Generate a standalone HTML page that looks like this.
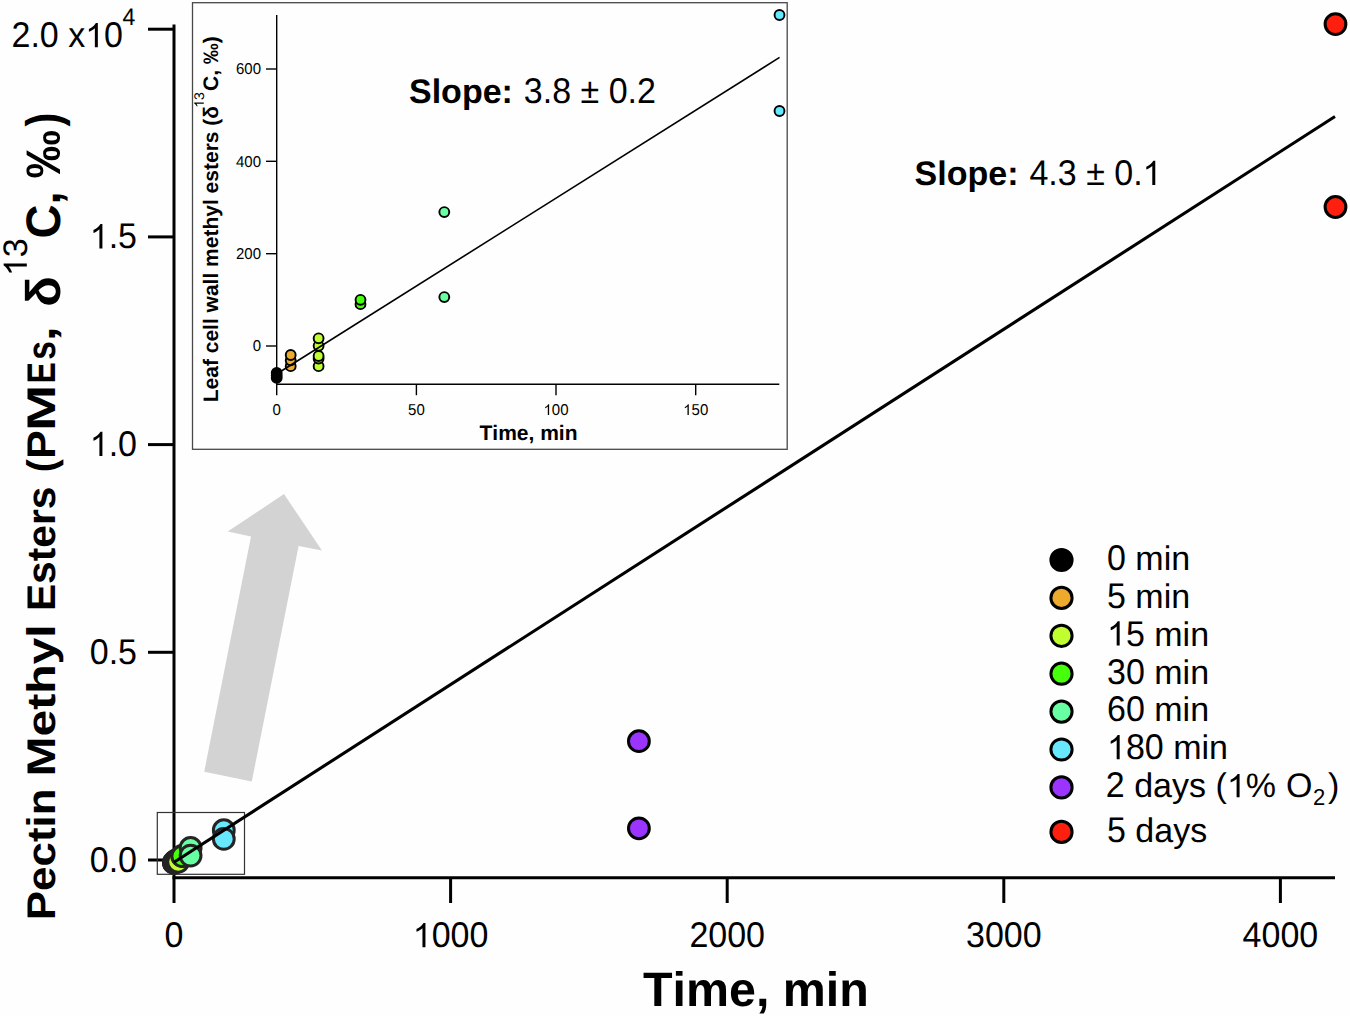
<!DOCTYPE html>
<html><head><meta charset="utf-8"><style>
html,body{margin:0;padding:0;background:#fefefe;}
body{width:1350px;height:1016px;overflow:hidden;}
svg{display:block;}
text{font-family:"Liberation Sans",sans-serif;text-rendering:geometricPrecision;font-kerning:none;}
.b{font-weight:bold;}
</style></head><body>
<svg width="1350" height="1016" viewBox="0 0 1350 1016">
<rect width="1350" height="1016" fill="#fefefe"/>
<polygon points="284,494.1 322,550.6 298.6,546.1 251.8,781.5 204.2,771.7 251,536.5 227.7,531.6" fill="#D3D3D3"/>
<g stroke="#000" stroke-width="3" fill="none">
<line x1="174" y1="24.4" x2="174" y2="903"/>
<line x1="172.5" y1="877.8" x2="1335" y2="877.8"/>
<line x1="148" y1="860.0" x2="174" y2="860.0"/>
<line x1="148" y1="652.3" x2="174" y2="652.3"/>
<line x1="148" y1="444.6" x2="174" y2="444.6"/>
<line x1="148" y1="236.9" x2="174" y2="236.9"/>
<line x1="148" y1="29.2" x2="174" y2="29.2"/>
<line x1="450.6" y1="877.8" x2="450.6" y2="903"/>
<line x1="727.2" y1="877.8" x2="727.2" y2="903"/>
<line x1="1003.8" y1="877.8" x2="1003.8" y2="903"/>
<line x1="1280.4" y1="877.8" x2="1280.4" y2="903"/>
</g>
<g fill="#000">
<g transform="translate(137.00,248.40)  scale(1,1.05) translate(-47.26,0)"><path d="M763 0L583 0L583 1147Q518 1085 412 1023Q306 961 223 930L223 1104Q373 1174 486 1272Q599 1370 646 1466L763 1466Z" transform="translate(0.00,0) scale(0.01660,-0.01580)"/><text x="18.91" y="0" font-size="34" xml:space="preserve">.5</text></g>
<g transform="translate(137.00,456.10)  scale(1,1.05) translate(-47.26,0)"><path d="M763 0L583 0L583 1147Q518 1085 412 1023Q306 961 223 930L223 1104Q373 1174 486 1272Q599 1370 646 1466L763 1466Z" transform="translate(0.00,0) scale(0.01660,-0.01580)"/><text x="18.91" y="0" font-size="34" xml:space="preserve">.0</text></g>
<g transform="translate(137.00,663.80)  scale(1,1.05) translate(-47.26,0)"><text x="0.00" y="0" font-size="34" xml:space="preserve">0.5</text></g>
<g transform="translate(137.00,871.50)  scale(1,1.05) translate(-47.26,0)"><text x="0.00" y="0" font-size="34" xml:space="preserve">0.0</text></g>
<g transform="translate(123.00,47.30)  scale(1,1.05) translate(-111.53,0)"><text x="0.00" y="0" font-size="34" xml:space="preserve">2.0 x</text><path d="M763 0L583 0L583 1147Q518 1085 412 1023Q306 961 223 930L223 1104Q373 1174 486 1272Q599 1370 646 1466L763 1466Z" transform="translate(73.71,0) scale(0.01660,-0.01580)"/><text x="92.62" y="0" font-size="34" xml:space="preserve">0</text></g>
<g transform="translate(122.50,25.30)  scale(1,1.05) translate(0.00,0)"><text x="0.00" y="0" font-size="23" xml:space="preserve">4</text></g>
<g transform="translate(174.00,947.30)  scale(1,1.05) translate(-9.45,0)"><text x="0.00" y="0" font-size="34" xml:space="preserve">0</text></g>
<g transform="translate(450.60,947.30)  scale(1,1.05) translate(-37.82,0)"><path d="M763 0L583 0L583 1147Q518 1085 412 1023Q306 961 223 930L223 1104Q373 1174 486 1272Q599 1370 646 1466L763 1466Z" transform="translate(0.00,0) scale(0.01660,-0.01580)"/><text x="18.91" y="0" font-size="34" xml:space="preserve">000</text></g>
<g transform="translate(727.20,947.30)  scale(1,1.05) translate(-37.82,0)"><text x="0.00" y="0" font-size="34" xml:space="preserve">2000</text></g>
<g transform="translate(1003.80,947.30)  scale(1,1.05) translate(-37.82,0)"><text x="0.00" y="0" font-size="34" xml:space="preserve">3000</text></g>
<g transform="translate(1280.40,947.30)  scale(1,1.05) translate(-37.82,0)"><text x="0.00" y="0" font-size="34" xml:space="preserve">4000</text></g>
</g>
<text x="643" y="1005.9" font-size="48.4" class="b">Time, min</text>
<text transform="translate(55.2,920.2) rotate(-90) scale(1.097,1)" font-size="40" class="b">Pectin</text>
<text transform="translate(55.2,776.6) rotate(-90) scale(1.2025,1)" font-size="40" class="b">Methyl</text>
<text transform="translate(55.2,611.1) rotate(-90) scale(1.019,1)" font-size="40" class="b">Esters</text>
<text transform="translate(55.2,472.2) rotate(-90) scale(0.97,1)" font-size="40" class="b">(</text>
<text transform="translate(55.2,458.9) rotate(-90) scale(1.077,1)" font-size="40" class="b">P</text>
<text transform="translate(55.2,430.9) rotate(-90) scale(1.39,1)" font-size="40" class="b">M</text>
<text transform="translate(55.2,383.4) rotate(-90) scale(0.8,1)" font-size="40" class="b">E</text>
<text transform="translate(55.2,359.7) rotate(-90) scale(0.84,1)" font-size="40" class="b">s</text>
<text transform="translate(55.2,341.4) rotate(-90) scale(1.4,1)" font-size="40" class="b">,</text>
<text transform="translate(59.6,306.7) rotate(-90) scale(1.044,1)" font-size="48.5" class="b">&#948;</text>
<text transform="translate(60,238.5) rotate(-90) scale(0.97,1)" font-size="48.5" class="b">C,</text>
<text transform="translate(60,178.4) rotate(-90) scale(1.0,1)" font-size="48.5" class="b">&#8240;</text>
<text transform="translate(60,126.6) rotate(-90) scale(0.85,1)" font-size="48.5" class="b">)</text>
<g transform="translate(26.80,276.20) rotate(-90) scale(1,1.0) translate(0.00,0)"><path d="M763 0L583 0L583 1147Q518 1085 412 1023Q306 961 223 930L223 1104Q373 1174 486 1272Q599 1370 646 1466L763 1466Z" transform="translate(0.00,0) scale(0.01660,-0.01580)"/><text x="18.91" y="0" font-size="34" xml:space="preserve">3</text></g>
<rect x="157.3" y="812.5" width="87.2" height="61.8" fill="none" stroke="#333" stroke-width="1.2"/>
<circle cx="174.0" cy="862.4" r="10.4" fill="#000000" stroke="#242424" stroke-width="3"/>
<circle cx="174.0" cy="862.7" r="10.4" fill="#000000" stroke="#242424" stroke-width="3"/>
<circle cx="174.0" cy="862.9" r="10.4" fill="#000000" stroke="#242424" stroke-width="3"/>
<circle cx="175.4" cy="860.8" r="10.4" fill="#EDAA2C" stroke="#242424" stroke-width="3"/>
<circle cx="175.4" cy="861.3" r="10.4" fill="#EDAA2C" stroke="#242424" stroke-width="3"/>
<circle cx="175.4" cy="861.8" r="10.4" fill="#EDAA2C" stroke="#242424" stroke-width="3"/>
<circle cx="178.1" cy="859.3" r="10.4" fill="#C0FE30" stroke="#242424" stroke-width="3"/>
<circle cx="178.1" cy="860.0" r="10.4" fill="#C0FE30" stroke="#242424" stroke-width="3"/>
<circle cx="178.1" cy="860.9" r="10.4" fill="#C0FE30" stroke="#242424" stroke-width="3"/>
<circle cx="178.1" cy="861.1" r="10.4" fill="#C0FE30" stroke="#242424" stroke-width="3"/>
<circle cx="178.1" cy="861.8" r="10.4" fill="#C0FE30" stroke="#242424" stroke-width="3"/>
<circle cx="182.3" cy="855.8" r="10.4" fill="#46FF0A" stroke="#242424" stroke-width="3"/>
<circle cx="182.3" cy="856.2" r="10.4" fill="#46FF0A" stroke="#242424" stroke-width="3"/>
<circle cx="190.6" cy="848.0" r="10.4" fill="#68FFA2" stroke="#242424" stroke-width="3"/>
<circle cx="190.6" cy="855.6" r="10.4" fill="#68FFA2" stroke="#242424" stroke-width="3"/>
<circle cx="223.8" cy="830.2" r="10.4" fill="#68E8FF" stroke="#242424" stroke-width="3"/>
<circle cx="223.8" cy="838.9" r="10.4" fill="#68E8FF" stroke="#242424" stroke-width="3"/>
<circle cx="638.9" cy="741.2" r="10.4" fill="#9C34FF" stroke="#000" stroke-width="3"/>
<circle cx="638.9" cy="828.3" r="10.4" fill="#9C34FF" stroke="#000" stroke-width="3"/>
<circle cx="1335.5" cy="24.1" r="10.4" fill="#FF1F0E" stroke="#000" stroke-width="3"/>
<circle cx="1335.5" cy="207" r="10.4" fill="#FF1F0E" stroke="#000" stroke-width="3"/>
<line x1="174" y1="862.3" x2="1335" y2="116.5" stroke="#000" stroke-width="3.1"/>
<text x="914.6" y="185" font-size="34" class="b">Slope:</text>
<g transform="translate(1029.44,185.00)  scale(1,1.05) translate(0.00,0)"><text x="0.00" y="0" font-size="34" xml:space="preserve">4.3 ± 0.</text><path d="M763 0L583 0L583 1147Q518 1085 412 1023Q306 961 223 930L223 1104Q373 1174 486 1272Q599 1370 646 1466L763 1466Z" transform="translate(113.17,0) scale(0.01660,-0.01580)"/></g>
<circle cx="1061.5" cy="560" r="10.6" fill="#000000" stroke="#000" stroke-width="3"/>
<g transform="translate(1107.00,569.80)  scale(1,1.05) translate(0.00,0)"><text x="0.00" y="0" font-size="34" xml:space="preserve">0</text></g>
<text x="1135.36" y="569.8" font-size="34">min</text>
<circle cx="1061.5" cy="597.9" r="10.6" fill="#EDAA2C" stroke="#000" stroke-width="3"/>
<g transform="translate(1107.00,607.70)  scale(1,1.05) translate(0.00,0)"><text x="0.00" y="0" font-size="34" xml:space="preserve">5</text></g>
<text x="1135.36" y="607.7" font-size="34">min</text>
<circle cx="1061.5" cy="635.8" r="10.6" fill="#C0FE30" stroke="#000" stroke-width="3"/>
<g transform="translate(1107.00,645.60)  scale(1,1.05) translate(0.00,0)"><path d="M763 0L583 0L583 1147Q518 1085 412 1023Q306 961 223 930L223 1104Q373 1174 486 1272Q599 1370 646 1466L763 1466Z" transform="translate(0.00,0) scale(0.01660,-0.01580)"/><text x="18.91" y="0" font-size="34" xml:space="preserve">5</text></g>
<text x="1154.26" y="645.6" font-size="34">min</text>
<circle cx="1061.5" cy="673.7" r="10.6" fill="#46FF0A" stroke="#000" stroke-width="3"/>
<g transform="translate(1107.00,683.50)  scale(1,1.05) translate(0.00,0)"><text x="0.00" y="0" font-size="34" xml:space="preserve">30</text></g>
<text x="1154.26" y="683.5" font-size="34">min</text>
<circle cx="1061.5" cy="711.6" r="10.6" fill="#68FFA2" stroke="#000" stroke-width="3"/>
<g transform="translate(1107.00,721.40)  scale(1,1.05) translate(0.00,0)"><text x="0.00" y="0" font-size="34" xml:space="preserve">60</text></g>
<text x="1154.26" y="721.4" font-size="34">min</text>
<circle cx="1061.5" cy="749.5" r="10.6" fill="#68E8FF" stroke="#000" stroke-width="3"/>
<g transform="translate(1107.00,759.30)  scale(1,1.05) translate(0.00,0)"><path d="M763 0L583 0L583 1147Q518 1085 412 1023Q306 961 223 930L223 1104Q373 1174 486 1272Q599 1370 646 1466L763 1466Z" transform="translate(0.00,0) scale(0.01660,-0.01580)"/><text x="18.91" y="0" font-size="34" xml:space="preserve">80</text></g>
<text x="1173.17" y="759.3" font-size="34">min</text>
<circle cx="1061.5" cy="787.4" r="10.6" fill="#9C34FF" stroke="#000" stroke-width="3"/>
<g transform="translate(1105.80,797.20)  scale(1,1.05) translate(0.00,0)"><text x="0.00" y="0" font-size="34" xml:space="preserve">2</text></g>
<text x="1134.16" y="797.2" font-size="34">days</text>
<g transform="translate(1215.60,797.20)  scale(1,1.0) translate(0.00,0)"><text x="0.00" y="0" font-size="34" xml:space="preserve">(</text><path d="M763 0L583 0L583 1147Q518 1085 412 1023Q306 961 223 930L223 1104Q373 1174 486 1272Q599 1370 646 1466L763 1466Z" transform="translate(11.32,0) scale(0.01660,-0.01580)"/><text x="30.23" y="0" font-size="34" xml:space="preserve">%</text></g>
<text x="1286" y="797.2" font-size="34">O</text>
<g transform="translate(1312.90,804.50)  scale(1,1.05) translate(0.00,0)"><text x="0.00" y="0" font-size="22" xml:space="preserve">2</text></g>
<text x="1328" y="797.2" font-size="34">)</text>
<circle cx="1061.5" cy="831.9" r="10.6" fill="#FF1F0E" stroke="#000" stroke-width="3"/>
<g transform="translate(1107.00,841.70)  scale(1,1.05) translate(0.00,0)"><text x="0.00" y="0" font-size="34" xml:space="preserve">5</text></g>
<text x="1135.36" y="841.7" font-size="34">days</text>
<rect x="192.5" y="2.7" width="594.7" height="446.6" fill="#fefefe" stroke="#484848" stroke-width="1.3"/>
<g stroke="#000" stroke-width="1.4" fill="none">
<line x1="276.7" y1="14.9" x2="276.7" y2="395.2"/>
<line x1="276" y1="384.2" x2="779.3" y2="384.2"/>
<line x1="266" y1="346.0" x2="276.7" y2="346.0"/>
<line x1="266" y1="253.7" x2="276.7" y2="253.7"/>
<line x1="266" y1="161.3" x2="276.7" y2="161.3"/>
<line x1="266" y1="69.0" x2="276.7" y2="69.0"/>
<line x1="416.4" y1="384.2" x2="416.4" y2="395.2"/>
<line x1="556.0" y1="384.2" x2="556.0" y2="395.2"/>
<line x1="695.7" y1="384.2" x2="695.7" y2="395.2"/>
</g>
<g fill="#000">
<g transform="translate(261.00,351.40)  scale(1,1.05) translate(-8.34,0)"><text x="0.00" y="0" font-size="15" xml:space="preserve">0</text></g>
<g transform="translate(261.00,259.06)  scale(1,1.05) translate(-25.03,0)"><text x="0.00" y="0" font-size="15" xml:space="preserve">200</text></g>
<g transform="translate(261.00,166.72)  scale(1,1.05) translate(-25.03,0)"><text x="0.00" y="0" font-size="15" xml:space="preserve">400</text></g>
<g transform="translate(261.00,74.38)  scale(1,1.05) translate(-25.03,0)"><text x="0.00" y="0" font-size="15" xml:space="preserve">600</text></g>
<g transform="translate(276.70,415.00)  scale(1,1.05) translate(-4.17,0)"><text x="0.00" y="0" font-size="15" xml:space="preserve">0</text></g>
<g transform="translate(416.38,415.00)  scale(1,1.05) translate(-8.34,0)"><text x="0.00" y="0" font-size="15" xml:space="preserve">50</text></g>
<g transform="translate(556.05,415.00)  scale(1,1.05) translate(-12.51,0)"><path d="M763 0L583 0L583 1147Q518 1085 412 1023Q306 961 223 930L223 1104Q373 1174 486 1272Q599 1370 646 1466L763 1466Z" transform="translate(0.00,0) scale(0.00732,-0.00697)"/><text x="8.34" y="0" font-size="15" xml:space="preserve">00</text></g>
<g transform="translate(695.72,415.00)  scale(1,1.05) translate(-12.51,0)"><path d="M763 0L583 0L583 1147Q518 1085 412 1023Q306 961 223 930L223 1104Q373 1174 486 1272Q599 1370 646 1466L763 1466Z" transform="translate(0.00,0) scale(0.00732,-0.00697)"/><text x="8.34" y="0" font-size="15" xml:space="preserve">50</text></g>
</g>
<text x="479.5" y="439.9" font-size="21" class="b">Time, min</text>
<text transform="translate(218.2,402.3) rotate(-90)" font-size="21" class="b">Leaf cell wall methyl esters (&#948;</text>
<g transform="translate(203.80,107.80) rotate(-90) scale(1,1.0) translate(0.00,0)"><path d="M763 0L583 0L583 1147Q518 1085 412 1023Q306 961 223 930L223 1104Q373 1174 486 1272Q599 1370 646 1466L763 1466Z" transform="translate(0.00,0) scale(0.00684,-0.00651)"/><text x="7.79" y="0" font-size="14" xml:space="preserve">3</text></g>
<text transform="translate(218.2,91) rotate(-90)" font-size="21" class="b">C, &#8240;)</text>
<circle cx="276.7" cy="377.9" r="4.95" fill="#000000" stroke="#000" stroke-width="1.9"/>
<circle cx="276.7" cy="375.5" r="4.95" fill="#000000" stroke="#000" stroke-width="1.9"/>
<circle cx="276.7" cy="372.8" r="4.95" fill="#000000" stroke="#000" stroke-width="1.9"/>
<circle cx="290.7" cy="366.2" r="4.95" fill="#EDAA2C" stroke="#000" stroke-width="1.9"/>
<circle cx="290.7" cy="360.3" r="4.95" fill="#EDAA2C" stroke="#000" stroke-width="1.9"/>
<circle cx="290.7" cy="355.0" r="4.95" fill="#EDAA2C" stroke="#000" stroke-width="1.9"/>
<circle cx="318.6" cy="366.2" r="4.95" fill="#C0FE30" stroke="#000" stroke-width="1.9"/>
<circle cx="318.6" cy="358.6" r="4.95" fill="#C0FE30" stroke="#000" stroke-width="1.9"/>
<circle cx="318.6" cy="356.0" r="4.95" fill="#C0FE30" stroke="#000" stroke-width="1.9"/>
<circle cx="318.6" cy="345.8" r="4.95" fill="#C0FE30" stroke="#000" stroke-width="1.9"/>
<circle cx="318.6" cy="338.3" r="4.95" fill="#C0FE30" stroke="#000" stroke-width="1.9"/>
<circle cx="360.5" cy="304.2" r="4.95" fill="#46FF0A" stroke="#000" stroke-width="1.9"/>
<circle cx="360.5" cy="299.8" r="4.95" fill="#46FF0A" stroke="#000" stroke-width="1.9"/>
<circle cx="444.3" cy="297.1" r="4.95" fill="#68FFA2" stroke="#000" stroke-width="1.9"/>
<circle cx="444.3" cy="212.1" r="4.95" fill="#68FFA2" stroke="#000" stroke-width="1.9"/>
<circle cx="779.5" cy="111.0" r="4.95" fill="#68E8FF" stroke="#000" stroke-width="1.9"/>
<circle cx="779.5" cy="15.0" r="4.95" fill="#68E8FF" stroke="#000" stroke-width="1.9"/>
<line x1="277" y1="373.8" x2="779.6" y2="57.4" stroke="#000" stroke-width="1.6"/>
<text x="409" y="103" font-size="34" class="b">Slope:</text>
<g transform="translate(523.84,103.00)  scale(1,1.05) translate(0.00,0)"><text x="0.00" y="0" font-size="34" xml:space="preserve">3.8 ± 0.2</text></g>
</svg></body></html>
